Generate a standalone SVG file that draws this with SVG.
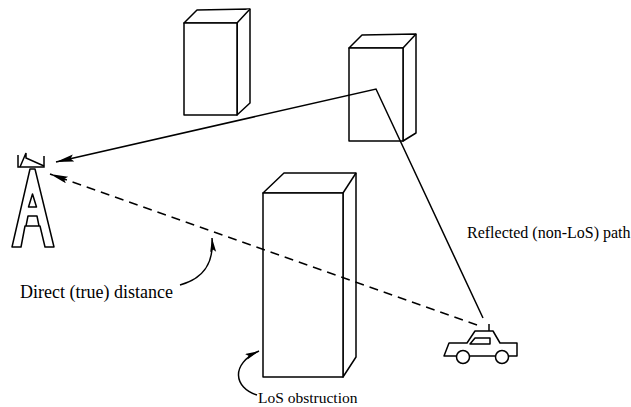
<svg xmlns="http://www.w3.org/2000/svg" width="631" height="407" viewBox="0 0 631 407">
  <style>
    .ink { fill: #fff; stroke: #000; stroke-width: 1.5; stroke-linejoin: round; }
    .wire { fill: none; stroke: #000; stroke-width: 1.5; }
    .dash { stroke-dasharray: 9 6; }
    .label { font-family: "Liberation Serif", "Times New Roman", serif; fill: #000; }
  </style>
  <defs>
    <marker id="head" markerUnits="userSpaceOnUse" markerWidth="20" markerHeight="10" refX="18" refY="3.5" orient="auto">
      <path d="M0,0 L18,3.5 L0,7 L3,3.5 z" fill="#000"/>
    </marker>
    <marker id="headSmall" markerUnits="userSpaceOnUse" markerWidth="16" markerHeight="10" refX="14" refY="3" orient="auto">
      <path d="M0,0 L14,3 L0,6 L2.5,3 z" fill="#000"/>
    </marker>
  </defs>

  <!-- background -->
  <rect width="631" height="407" fill="#fff"/>

  <!-- back-left tower block -->
  <g id="building-a">
    <path class="ink" d="M184,23 L197,10 L250,9 L250,103 L237,115 L237,23 Z"/>
    <path class="ink" d="M184,23 L237,23 L250,9 M237,23 L237,115"/>
    <rect class="ink" x="184" y="23" width="53" height="92"/>
  </g>

  <!-- reflecting block -->
  <g id="building-b">
    <path class="ink" d="M349,48 L362,35 L416,34 L416,133 L403,141 L403,48 Z"/>
    <path class="ink" d="M403,48 L416,34"/>
    <rect class="ink" x="349" y="48" width="54" height="93"/>
  </g>

  <!-- obstructing block -->
  <g id="building-c">
    <path class="ink" d="M263,193 L284,173 L356,173 L356,357 L343,377 L343,193 Z"/>
    <path class="ink" d="M343,193 L356,173"/>
    <rect class="ink" x="263" y="193" width="80" height="184"/>
  </g>

  <!-- base station mast -->
  <g id="tower">
    <path class="wire" d="M18,155 L18,167 L44,167 L44,156"/>
    <path class="wire" d="M20,167 L26,153 L26,158 L44,166"/>
    <path class="ink" fill-rule="evenodd" d="M12,247 L30,169 L35,169 L54,247 L45,247 L40,226 L25,226 L21,247 Z M32.5,194 L36.5,207 L28.5,207 Z M28,216 L37,216 L39,226 L26,226 Z"/>
  </g>

  <!-- mobile receiver -->
  <g id="car">
    <path class="wire" d="M489,324 L489,331"/>
    <path class="ink" d="M444,356 L449,343 L467,343 L475,331 L493,331 L500,343 L517,343 L517,356 Z"/>
    <path class="ink" d="M470,344 L475,338 L490,338 L490,344 Z"/>
    <circle class="ink" cx="463" cy="357" r="6.5"/>
    <circle class="ink" cx="502" cy="357" r="6.5"/>
  </g>

  <!-- signal paths -->
  <g id="connectors">
    <path class="wire" d="M483,318 L376,89 L56,162" marker-end="url(#head)"/>
    <path class="wire dash" d="M477,325 L50,174" marker-end="url(#head)"/>
    <path class="wire" d="M180,285 C205,278 214,262 212,238" marker-end="url(#headSmall)"/>
    <path class="wire" d="M257,395 C234,388 230,364 259,351" marker-end="url(#headSmall)"/>
  </g>

  <!-- labels -->
  <g id="labels">
    <text class="label" x="20" y="298" font-size="18">Direct (true) distance</text>
    <text class="label" x="467" y="238" font-size="16">Reflected (non-LoS) path</text>
    <text class="label" x="258" y="403" font-size="15.5">LoS obstruction</text>
  </g>
</svg>
